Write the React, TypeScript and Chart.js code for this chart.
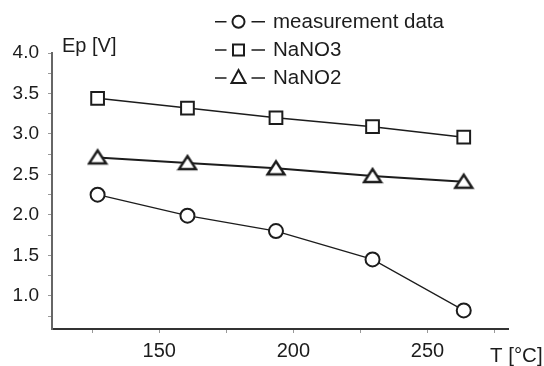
import React, { useEffect, useRef } from "react";
import { Chart, registerables } from "chart.js";
Chart.register(...registerables);

const temperatures = [127, 160.5, 193.5, 229.5, 263.5];
const measurementData = [2.25, 1.99, 1.8, 1.45, 0.82];
const nano3Data = [3.44, 3.32, 3.2, 3.09, 2.96];
const nano2Data = [2.71, 2.64, 2.575, 2.48, 2.41];
const seriesLabels = ["measurement data", "NaNO3", "NaNO2"];
const seriesStyles = ["circle", "rect", "triangle"];
const yTicks = [0.75, 1.0, 1.25, 1.5, 1.75, 2.0, 2.25, 2.5, 2.75, 3.0, 3.25, 3.5, 3.75, 4.0];
const yLabeled = [1.0, 1.5, 2.0, 2.5, 3.0, 3.5, 4.0];
const xTicks = [125, 150, 175, 200, 225, 250, 275];
const xLabeled = [150, 200, 250];
const yTitle = "Ep [V]";
const xTitle = "T [°C]";

const FONT = "'Liberation Sans', Arial, sans-serif";
const INK = "#1c1c1c";

function drawMarker(ctx: CanvasRenderingContext2D, style: string, x: number, y: number) {
  ctx.beginPath();
  if (style === "circle") {
    ctx.arc(x, y, 6, 0, Math.PI * 2);
  } else if (style === "rect") {
    ctx.rect(x - 5.5, y - 5.5, 11, 11);
  } else {
    ctx.moveTo(x, y - 7);
    ctx.lineTo(x + 7, y + 6);
    ctx.lineTo(x - 7, y + 6);
    ctx.closePath();
  }
  ctx.fillStyle = "#fff";
  ctx.fill();
  ctx.stroke();
}

const overlayPlugin = {
  id: "overlay",
  afterDraw(chart: any) {
    const ctx: CanvasRenderingContext2D = chart.ctx;
    const area = chart.chartArea;
    ctx.save();
    ctx.fillStyle = INK;
    ctx.font = `20px ${FONT}`;
    ctx.textBaseline = "middle";
    ctx.textAlign = "left";
    ctx.fillText(yTitle, area.left + 10, area.top - 7);
    ctx.font = `20.5px ${FONT}`;
    ctx.fillText(xTitle, area.right - 18, 356);

    // legend
    const rowsY = [21.7, 50, 78];
    const mx = 238.5;
    ctx.strokeStyle = INK;
    ctx.font = `20.5px ${FONT}`;
    seriesLabels.forEach((label, i) => {
      const y = rowsY[i];
      ctx.lineWidth = 1.6;
      ctx.beginPath();
      ctx.moveTo(215, y);
      ctx.lineTo(226.5, y);
      ctx.moveTo(251.5, y);
      ctx.lineTo(265, y);
      ctx.stroke();
      ctx.lineWidth = 2;
      drawMarker(ctx, seriesStyles[i], mx, seriesStyles[i] === "triangle" ? y - 1 : y);
      ctx.fillStyle = INK;
      ctx.fillText(label, 273, y + 0.5);
    });
    ctx.restore();
  },
};

function triangleCanvas(): HTMLCanvasElement {
  const c = document.createElement("canvas");
  c.width = 22;
  c.height = 20;
  const ctx = c.getContext("2d")!;
  ctx.strokeStyle = INK;
  ctx.lineWidth = 2.4;
  ctx.lineJoin = "miter";
  ctx.beginPath();
  ctx.moveTo(11, 3);
  ctx.lineTo(19.5, 16);
  ctx.lineTo(2.5, 16);
  ctx.closePath();
  ctx.fillStyle = "#fff";
  ctx.fill();
  ctx.stroke();
  return c;
}

export default function App() {
  const ref = useRef<HTMLCanvasElement | null>(null);
  useEffect(() => {
    if (!ref.current) return;
    const mk = (ys: number[]) => temperatures.map((x, i) => ({ x, y: ys[i] }));
    const tri = triangleCanvas();
    const chart = new Chart(ref.current, {
      type: "line",
      data: {
        datasets: [
          {
            label: seriesLabels[0],
            data: mk(measurementData),
            borderColor: INK,
            borderWidth: 1.2,
            pointStyle: "circle",
            pointRadius: 7,
            pointBorderWidth: 2,
            pointBackgroundColor: "#fff",
            pointBorderColor: INK,
          },
          {
            label: seriesLabels[1],
            data: mk(nano3Data),
            borderColor: INK,
            borderWidth: 1.5,
            pointStyle: "rect",
            pointRadius: 9,
            pointBorderWidth: 2,
            pointBackgroundColor: "#fff",
            pointBorderColor: INK,
          },
          {
            label: seriesLabels[2],
            data: mk(nano2Data),
            borderColor: INK,
            borderWidth: 2,
            pointStyle: tri as any,
            pointRadius: 10,
            pointBorderWidth: 2,
            pointBackgroundColor: "#fff",
            pointBorderColor: INK,
          },
        ],
      },
      options: {
        animation: false,
        responsive: false,
        layout: { padding: { left: 0, top: 53, right: 36, bottom: 0 } },
        plugins: { legend: { display: false }, tooltip: { enabled: false } },
        scales: {
          x: {
            type: "linear",
            min: 110,
            max: 280,
            afterBuildTicks: (s: any) => {
              s.ticks = xTicks.map((v) => ({ value: v }));
            },
            afterFit: (s: any) => {
              s.height = 37;
            },
            grid: { drawOnChartArea: false, drawTicks: true, tickLength: 4, color: "#999", tickWidth: 1 },
            border: { display: true, color: "#333", width: 2 },
            ticks: {
              autoSkip: false,
              maxRotation: 0,
              padding: 6,
              color: INK,
              font: { family: FONT, size: 20 },
              callback: (v: any) => (xLabeled.includes(Number(v)) ? String(v) : ""),
            },
          },
          y: {
            type: "linear",
            min: 0.59,
            max: 4.0,
            afterBuildTicks: (s: any) => {
              s.ticks = yTicks.map((v) => ({ value: v }));
            },
            afterFit: (s: any) => {
              s.width = 52;
            },
            grid: { drawOnChartArea: false, drawTicks: true, tickLength: 4, color: "#999", tickWidth: 1 },
            border: { display: true, color: "#666", width: 2 },
            ticks: {
              autoSkip: false,
              padding: 9,
              color: INK,
              font: { family: FONT, size: 19 },
              callback: (v: any) => (yLabeled.includes(Number(v)) ? Number(v).toFixed(1) : ""),
            },
          },
        },
      },
      plugins: [overlayPlugin],
    });
    return () => chart.destroy();
  }, []);
  return (
    <div style={{ position: "absolute", left: 0, top: 0, width: 544, height: 366, background: "#fff" }}>
      <canvas ref={ref} width={544} height={366} />
    </div>
  );
}
